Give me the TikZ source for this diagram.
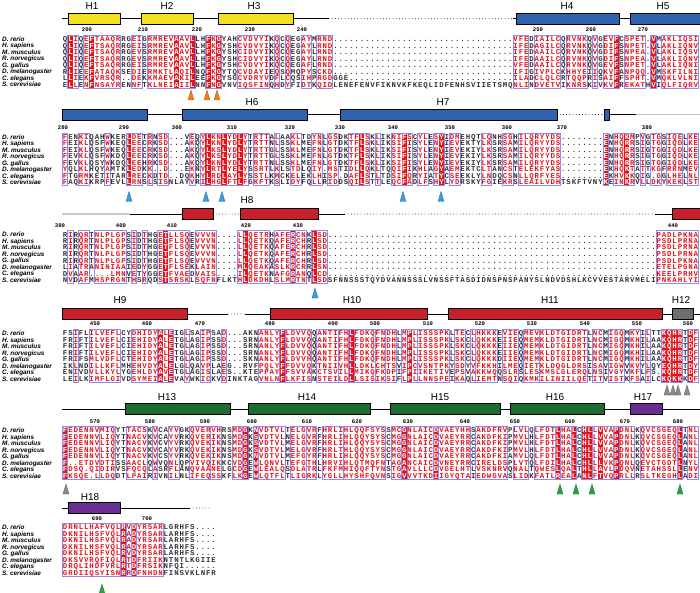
\documentclass[tikz,border=0pt]{standalone}
\usepackage{fontspec}
\setmainfont{Liberation Sans}
\newfontfamily\seqfont{Liberation Mono}
\definecolor{seqred}{HTML}{E2141E}
\definecolor{framecol}{HTML}{8C8CF2}
\definecolor{hxyellow}{HTML}{F2E11C}
\definecolor{hxblue}{HTML}{2F63B0}
\definecolor{hxred}{HTML}{C8202B}
\definecolor{hxgrey}{HTML}{6E6E6E}
\definecolor{hxgreen}{HTML}{1D6A34}
\definecolor{hxpurple}{HTML}{6A2D92}
\definecolor{triorange}{HTML}{F0801E}
\definecolor{triblue}{HTML}{3A9BE0}
\definecolor{trigrey}{HTML}{8A8A8A}
\definecolor{trigreen}{HTML}{2EA043}

% residue loop: one box per column, colour from the column marks
\newcount\seqcol
\def\seqchars#1{\ifx#1\relax\else\seqbox{#1}\expandafter\seqchars\fi}
\def\seqbox#1{\global\advance\seqcol by 1
  \makebox[5.3pt]{\ifcsname rd\curblk-\the\seqcol\endcsname\color{white}\else
    \ifcsname fr\curblk-\the\seqcol\endcsname\color{seqred}\else\color{black!80}\fi\fi#1}}

\expandafter\def\csname yblk1\endcsname{39.3}
\expandafter\def\csname yblk2\endcsname{137}
\expandafter\def\csname yblk3\endcsname{234.7}
\expandafter\def\csname yblk4\endcsname{333.3}
\expandafter\def\csname yblk5\endcsname{430.5}
\expandafter\def\csname yblk6\endcsname{527.3}
\def\specieslist{D. rerio,H. sapiens,M. musculus,R. norvegicus,G. gallus,D. melanogaster,C. elegans,S. cerevisiae}

\newcommand\drawblock[4]{%
  \foreach \c in {#3}{\expandafter\gdef\csname rd#1-\c\endcsname{}}
  \foreach \a/\b in {#4}{\foreach \c in {\a,...,\b}{\expandafter\gdef\csname fr#1-\c\endcsname{}}}
  \foreach \c in {#3} \fill[seqred] ({62.35+(\c-1)*5.3},{#2-3.8}) rectangle ++(5.3,52.3);
  \foreach \a/\b in {#4} \draw[simframe] ({62.35+(\a-1)*5.3},{#2-4.1}) rectangle ({67.65+(\b-1)*5.3},{#2+48.8});
  \foreach \sp [count=\i] in \specieslist \node[spname] (sp#1-\i) at (2,{#2+(\i-1)*6.5+2.2}) {\sp};
}
\newcommand\seqrow[3]{%
  \pgfmathsetmacro\rowy{\csname yblk#1\endcsname+(#2-1)*6.5+2.3}
  \def\curblk{#1}
  \node[seqline] (seq#1-#2) at (62.35,\rowy) {\global\seqcol=0\relax\seqchars#3\relax};}
\newcommand\helixbar[4]{\draw[helixbox, fill=#4] (#1,{#3-5.5}) rectangle (#2,{#3+5.5});}
\newcommand\sitetri[3]{\fill[#3, draw=#3!70!black, line width=0.3pt] ({#1-3},{#2+10}) -- (#1,#2) -- ({#1+3},{#2+10}) -- cycle;}

\begin{document}
\begin{tikzpicture}[x=1pt,y=-1pt,
  seqline/.style={anchor=base west, inner sep=0pt, font=\seqfont\bfseries\fontsize{7.4}{8}\selectfont},
  spname/.style={anchor=base west, inner sep=0pt, font=\bfseries\itshape\fontsize{6.4}{7}\selectfont},
  numlbl/.style={anchor=base, inner sep=0pt, font=\seqfont\bfseries\fontsize{5.6}{6}\selectfont},
  hlabel/.style={anchor=base, inner sep=0pt, font=\fontsize{10}{12}\selectfont},
  simframe/.style={draw=framecol, line width=0.7pt},
  helixbox/.style={draw=black, line width=0.6pt},
  loopline/.style={line width=0.6pt},
  gapline/.style={line width=0.9pt, line cap=round, dash pattern=on 0pt off 3.2pt}]
\useasboundingbox (0,0) rectangle (700,593);
\fill[white] (0,0) rectangle (700,593);

% block 1
\draw[loopline] (62,18.7) -- (329,18.7);
\draw[gapline] (329,18.7) -- (513,18.7);
\draw[loopline] (513,18.7) -- (700,18.7);
\helixbar{68}{120}{18.7}{hxyellow}
\helixbar{141}{193}{18.7}{hxyellow}
\helixbar{218}{293}{18.7}{hxyellow}
\helixbar{516}{619}{18.7}{hxblue}
\helixbar{630}{703}{18.7}{hxblue}
\foreach \h/\x in {H1/92,H2/167,H3/254,H4/567,H5/663} \node[hlabel] (lbl\h) at (\x,9.3) {\h};
\foreach \n/\x in {200/87,210/143,220/197,230/250,240/302,250/538,260/591,270/643} \node[numlbl] (num\n) at (\x,31.8) {\n};
\drawblock{1}{39.3}{2,6,22,25,28,30,105,112}{2/3,5/11,14/15,17/25,28/30,34/39,41/41,43/43,46/47,49/51,86/88,90/94,96/99,101/101,103/105,107/110,112/112,114/120}
\seqrow{1}{1}{QLIQEFTAAQ RRGEIGRMRE VAAVLLHFKG YAHCVDVYIK QCQEGAYMRN D......... .......... .......... .....VFEDI AILCQRVNKQ VGEVFCSPET .VMAKLIQSI}
\seqrow{1}{2}{QLIQEFTSAQ RRGEISRMRE VAAVLLHFKG YSHCVDVYIK QCQEGAYLRN D......... .......... .......... .....IFEDA GILCQRVNKQ VGDIFSNPET .VLAKLIQNV}
\seqrow{1}{3}{QLIQEFTSAQ RRGEVSRMRE VAAVLLHFKG YSHCIDVYIK QCQEGAYLRN D......... .......... .......... .....IFEDA AILCQRVNKQ VGDIFSNPEA .VLAKLIQSV}
\seqrow{1}{4}{QLIQEFTSAQ RRGEVSRMRE VAAVLLHFKG YSHCIDVYIK QCQEGAYLRN D......... .......... .......... .....IFEDA AILCQRVNKQ VGDIFSNPEA .VLAKLIQNV}
\seqrow{1}{5}{QLIQEFTSAQ RRGEISRMRE VAAVLLHFKG YSHCVDVYIK QCQEGAFLRN D......... .......... .......... .....VFEDA AILCQRVNKQ VGEVFSNPET .VLAKLIQNI}
\seqrow{1}{6}{RLIEEFATAQ KSEDIERMKT LAQILNQFKG YTQCVDAYIE QSQMQPYSCK D......... .......... .......... .....IFIGI VPLCKHHYEI IQKVFANPQQ .VMSKFILNI}
\seqrow{1}{7}{LLIEKFVRSQ R..DEKKMAE VAKILEEFKG YSGCVDRYVD FLCQSIHPRG DGGE...... .......... .......... .....ILADC LQLCRTQQPR ISAIFFSPHT .VMQKLVLNI}
\seqrow{1}{8}{ELLENFNSAY RENNFTKLNE IAIILNNFNG VNVIQSFINQ HDYFIDTKQI DLENEFENVF IKNVKFKEQL IDFENHSVII ETSMQNLIND VETVIKNRSK IVKVFREKAT HVIQLFIQRV}
\foreach \x in {191,207,217} {\sitetri{\x}{90}{triorange}}

% block 2
\helixbar{62}{147}{114.5}{hxblue}
\draw[loopline] (147,114.5) -- (182,114.5);
\draw[loopline] (307,114.5) -- (340,114.5);
\draw[gapline] (557,114.5) -- (604,114.5);
\draw[loopline] (609,114.5) -- (636,114.5);
\draw[line width=1.2pt, black!22] (636,114.5) -- (700,114.5);
\helixbar{182}{307}{114.5}{hxblue}
\helixbar{340}{557}{114.5}{hxblue}
\helixbar{604}{609}{114.5}{hxblue}
\foreach \h/\x in {H6/252,H7/443} \node[hlabel] (lbl\h) at (\x,106) {\h};
\foreach \n/\x in {280/63,290/124,300/177,310/232,320/290,330/340,340/393,350/450,360/507,370/562,380/647} \node[numlbl] (num\n) at (\x,129.5) {\n};
\drawblock{2}{137}{13,28,31,34,57,65,72,103,107}{1/1,4/5,9/9,13/15,17/17,19/20,25/25,27/35,37/39,41/41,44/45,48/49,51/52,55/58,60/60,63/66,68/69,71/72,74/75,80/81,84/85,87/94,103/103,105/108,110/110,112/113,115/117,119/120}
\seqrow{2}{1}{FENKIQAHWK ERLDETRNSD ...VEQYLKN LYDLYTRTTA LAAKLTDYNL GSDKTFLSKL IKNIFSCYLE SYIDMEHQTL QNHSGHILQR YYDS...... ..ENHQKMPV GTGSIQELKE}
\seqrow{2}{2}{FEIKLQSFWK EQLEECRKSD ...AKQYLKN LYDLYTRTTN LSSKLMEFNL GTDKTFLSKL IKSIFISYLE NYIEVEKTYL KSRSAMILQR YYDS...... ..ENHQRRSI GTGGIQDLKE}
\seqrow{2}{3}{FEIKLQSFWK EQLEECRKSD ...AKQYLKS LYDLYTRTTG LSSKLMEFNL GTDKTFLSKL IKSIFISYLE NYIEVEKIYL KSRSAMILQR YYDS...... ..ENHQRRSI GTGGIQDLKE}
\seqrow{2}{4}{FEVKLQSFWK DQLEECRKSD ...AKQYLKS LYDLYTRTTG LSSKLMEFNL GTDKTFLSKL IKSIFISYLE NYIEVEKIYL KSRSAMILQR YYDS...... ..ENHQRRSI GTGGIQDLKE}
\seqrow{2}{5}{FEVKLQSYWK DQLEEHRKSD ...AKQYLKN LYDLYTRTTN LSSKLMEFNL GTDKTFLSKL IKSIFISYLE NYIEVEKIYL KSRSAMILQR YYDS...... ..ENHQRRSI GTGGIQDLKE}
\seqrow{2}{6}{YQLKLHQYAM TKLEDKK..D ...EKNYLRT LYELYSSRTL KLSTDLQIY. MSTIDLLQKL TQQIFIKHLA GYAEMEKTCL TANCSTELEK FYAS...... ..EKHQKTAT TKGFRRNMEV}
\seqrow{2}{7}{FTGRMKETIT ARLRECKDTD ..DQKHYLRD LAYLYSSTLK MCKELEKLHI SP.DAFLSTL TDSIFQRYIA TYCSEEKLYL NDQCSNLLQR FYES...... ..EKHVKKQI G.GGLHELNL}
\seqrow{2}{8}{FAQKIKRPFE VLLRNSLSIS NLAYVRILHG LFTLFGKFTK SLIDYFQLLR IDDSQILSTT LEQCFADLFS HYLYDRSKYF GIEKRSLEAI LVDHTSKFTV NYKEINKRVL LDKYKEKLST}
\foreach \x in {129,206,222,403,441} {\sitetri{\x}{191.5}{triblue}}

% block 3
\draw[line width=1.2pt, black!22] (62,214) -- (130,214);
\draw[loopline] (130,214) -- (182,214);
\draw[gapline] (213,214) -- (240,214);
\draw[loopline] (318,214) -- (345,214);
\draw[gapline] (345,214) -- (655,214);
\draw[loopline] (655,214) -- (672,214);
\helixbar{182}{213}{214}{hxred}
\helixbar{240}{318}{214}{hxred}
\helixbar{672}{703}{214}{hxred}
\node[hlabel] (lblH8) at (247,204) {H8};
\foreach \n/\x in {390/60,400/121,410/172,420/246,430/298,440/673} \node[numlbl] (num\n) at (\x,227.2) {\n};
\drawblock{3}{234.7}{20,35,44,48}{2/2,4/5,7/12,14/14,16/16,19/24,26/29,34/39,41/43,44/44,45/46,48/50,113/120}
\seqrow{3}{1}{RIRQRTNLPL GPSIDTHGET LLSQEVVVN. ...LLQETRH AFERCNKLSD .......... .......... .......... .......... .......... .......... ..PADLPKNA}
\seqrow{3}{2}{RIRQRTNLPL GPSIDTHGET FLSQEVVVN. ...LLQETKQ AFERCHRLSD .......... .......... .......... .......... .......... .......... ..PSDLPRNA}
\seqrow{3}{3}{RIRQRTNLPL GPSIDTHGET FLSQEVVVN. ...LLQETKQ AFERCHRLSD .......... .......... .......... .......... .......... .......... ..PSDLPRNA}
\seqrow{3}{4}{RIRQRTNLPL GPSIDTHGET FLSQEVVVN. ...LLQETKQ AFERCHRLSD .......... .......... .......... .......... .......... .......... ..PSDLPRNA}
\seqrow{3}{5}{RIRQRTNLPL GPSIDTHGET FLSQEVVVN. ...LLQETKQ AFERCHRLSD .......... .......... .......... .......... .......... .......... ..PSDLPKNA}
\seqrow{3}{6}{LIATRANINI AAIEDYGGET FLSEKLAIN. ...MLQEAKA SLKRCRRLSN .......... .......... .......... .......... .......... .......... ..ETELPGNA}
\seqrow{3}{7}{DVAAR....L MNVETYGGET FVAEDVAIS. ...ILQETKN AFGRANQLCD .......... .......... .......... .......... .......... .......... ..KEELPRHV}
\seqrow{3}{8}{NVDAFMHSPR GNTHSRQDST SRSKLSQFNF LKTHLDKDHL SLMRTNTLSD SFNNSSSTQY DVANNSSSLV NSSFTASDID NSPNSPANYS LNDVDSHLKC VVESTARVME LIPNKAHLYI}
\sitetri{315}{288}{triblue}

% block 4
\draw[loopline] (187,314) -- (228,314);
\draw[gapline] (228,314) -- (245,314);
\draw[loopline] (245,314) -- (270,314);
\draw[loopline] (427,314) -- (448,314);
\draw[loopline] (662,314) -- (672,314);
\draw[loopline] (693,314) -- (700,314);
\helixbar{62}{187}{314}{hxred}
\helixbar{270}{427}{314}{hxred}
\helixbar{448}{662}{314}{hxred}
\helixbar{672}{693}{314}{hxgrey}
\foreach \h/\x in {H9/120,H10/352,H11/550,H12/681} \node[hlabel] (lbl\h) at (\x,303) {\h};
\foreach \n/\x in {450/95,460/147,470/200,480/270,490/333,500/375,510/428,520/480,530/532,540/585,550/637,560/688} \node[numlbl] (num\n) at (\x,325.8) {\n};
\drawblock{4}{333.3}{19,21,42,55,66,114,115,116,117,119}{3/3,6/11,14/18,19/21,24/24,27/28,31/31,38/41,42/42,43/47,49/52,53/54,55/55,56/59,60/61,62/63,65/67,68/73,75/76,78/78,79/82,84/86,88/90,91/99,101/102,104/106,108/109,111/111,114/117,119/120}
\seqrow{4}{1}{FSIFLILVEF LCYDHIDYAL EIGLSAIPSA D...AKNANL YFLDVVQQAN TIFHLFDKQF NDHLMPLISS SPKLTECLHK KKEVIEQMEV KLDTGIDRTL NCMIGQMKYI LTTKQHRTDF}
\seqrow{4}{2}{FRIFTILVEF LCIEHIDYAL ETGLAGIPSS D...SRNANL YFLDVVQQAN TIFHLFDKQF NDHLMPLISS SPKLSKCLQK KKEIIEQMEM KLDTGIDRTL NCMIGQMKHI LAAKQHRTDF}
\seqrow{4}{3}{FRIFTILVEF LCIEHIDYAL ETGLAGIPSS D...SRNANL YFLDVVQQAN TIFHLFDKQF NDHLMPLISS SPKLSKCLQK KKEIIEQMEM KLDTGIDRTL NCMIGQMKHI LAAKQHRTDF}
\seqrow{4}{4}{FRIFTILVEF LCIEHIDYAL ETGLAGIPSS D...SRNANL YFLDVVQQAN TIFHLFDKQF NDHLMPLISS SPKLSKCLQK KKEIIEQMEM KLDTGIDRTL NCMIGQMKHI LAAKQHRTDF}
\seqrow{4}{5}{FRIFSMLVDF LCTEHIDYAL ETGLAGIPSS D...SKNANL YFLDVVHQAN TIFHLFDKQF NDHLMPLISS SPKLSKCLQK KKDIIEQMEM KLDTGIDRTL NCMIGQMKHI LAAKQHRTDF}
\seqrow{4}{6}{IKLNDILLKF LMHEHVDYAL ELGLQAVPLA EG..RVFPQL YFFDVVQKTN IIVHLLDKLC HTSVIPCVSN TPKYSDYVFK KHILMEQIET KLDQGLDRSI SAVIGWVKVY LQYEQHRTDY}
\seqrow{4}{7}{ENIVDVLLKY LYGEHLDYAV ETGLAGISLA ES..KTEPPA YFFSVVAKCT SVILLMIKQF KDPIFPIIKE TIVEPSVAKK WQQSLRSLES KMSLGLERQL NSIVGYVKFL FS.KQHRTDF}
\seqrow{4}{8}{LEILKIMFLG IVDSYMEIAL EVAYWKICKV DINKTAGVNL NFLKFISNST EILDLLSISI KSIFLPLLNN SPEIKAQLIE MTNSQIQKMK ILINIILQET ITVISTKFSA ILCKQKKKDF}
\foreach \x in {667,673,678,687} {\sitetri{\x}{385}{trigrey}}

% block 5
\draw[loopline] (62,409) -- (125,409);
\draw[loopline] (230,409) -- (248,409);
\draw[loopline] (370,409) -- (390,409);
\draw[loopline] (500,409) -- (510,409);
\draw[loopline] (604,409) -- (630,409);
\draw[loopline] (662,409) -- (700,409);
\helixbar{125}{230}{409}{hxgreen}
\helixbar{248}{370}{409}{hxgreen}
\helixbar{390}{500}{409}{hxgreen}
\helixbar{510}{604}{409}{hxgreen}
\helixbar{630}{662}{409}{hxpurple}
\foreach \h/\x in {H13/167,H14/307,H15/440,H16/555,H17/643} \node[hlabel] (lbl\h) at (\x,400) {\h};
\foreach \n/\x in {570/95,580/150,590/205,600/252,610/307,620/357,630/408,640/465,650/515,660/570,670/625,680/678} \node[numlbl] (num\n) at (\x,423) {\n};
\drawblock{5}{430.5}{1,35,37,65,71,94,97,99,100,102,105,117}{1/1,2/7,8/10,13/16,18/18,21/22,25/28,29/30,33/34,35/35,37/37,38/42,44/46,47/48,50/53,54/61,63/64,65/65,66/70,71/71,72/77,79/84,86/88,90/93,94/94,95/96,97/97,99/100,101/104,105/105,106/108,110/116,117/117,119/120}
\seqrow{5}{1}{FEDENNVMIQ YTTACSKVCA YVGKQVERVH RSMDGKNVDT VLTELGVRFH RLIHLQQFSY SSMCGNLAIC DVAEYHHSAK DFRVPLVLQL FDTLHALCHL LVVAPDNLKQ VCSGEQLTNL}
\seqrow{5}{2}{FEDENNVLIQ YTNACVKVCA YVRKQVERIK NSMDGKSVDT VLNELGVRFH RLIHLQQYSY SCMGGNLAIC DVAEYRRCAK DFKIPMVLHL FDTLHALCHL LVVAPDNLKQ VCSGEQLANL}
\seqrow{5}{3}{FEDENNVLIQ YTNACVKVCV YVRKQVEKIK NSMDGKSVDT VLMELGVRFH RLIHLQQYSY SCMGGNLAIC DVAEYRRCAK DFKIPMVLHL FDTLHALCHL LVVAPDNLKQ VCSGEQLANL}
\seqrow{5}{4}{FEDENNVLIQ YTNACVKVCA YVRKQVEKIK NSMDGKSVDT VLMELGVRFH RLTHLQQYSY SCMGGNLAIC DVAEYRRCAK DFKIPMVLHL FDTLHALCHL LVVAPDNLKQ VCSGEQLANL}
\seqrow{5}{5}{FEDENNVLIQ YTNACVKVCS YVRKQVEKIK NSMDGKNVDT VLMEFGYRFH RLIHLQQYSY SCMGGNLAIC DVAEYRRCAK DFKIAMVLQL FDTLHALCHL LVVAPDNLKQ VCSGEQLANL}
\seqrow{5}{6}{F..ETDVDTI SSAACLQWVQ NLQPVIVQIK KCVDGEWLQN VLTEFGTHLH RVIHLQTMQF NTAGANCAIC DVNEYRRCIR ELDSPLVTQL FDILHALCHL LLVKPQNLQE VCTGDTLNYL}
\seqrow{5}{7}{FDSQ.QIDIR VSFQCQLASR FLANQVAANE LGCDGEWLEA LQSDLATRLF KFMHIQQFTY NSTGAVLLLC DVGELHTLVS KNRVQNALTQ WESLQALTHL LAVLPDQVNE TAHSSLLENV}
\seqrow{5}{8}{FKSQE.LLDQ DTLPAIRIVN ILNLIFEQSS KFLKGEWLQT FLTLIGRKLY GLLHYSHFQV NSIGVVVTKD IIGYQTAIED WGVASLIDKF ATLREALANL FTVQPRLLRS LTKEGHLADI}
\sitetri{66}{484}{trigrey}
\foreach \x in {560,576,592,680} {\sitetri{\x}{484}{trigreen}}

% block 6
\draw[loopline] (62,508) -- (190,508);
\draw[gapline] (190,508) -- (210,508);
\helixbar{68}{120}{508}{hxpurple}
\node[hlabel] (lblH18) at (90,500) {H18};
\foreach \n/\x in {690/97,700/147} \node[numlbl] (num\n) at (\x,520.5) {\n};
\drawblock{6}{527.3}{12,14}{1/11,12/12,13/13,14/14,15/19}
\seqrow{6}{1}{DRNLLHAFVQ LRVDYRSARL GRHFS....}
\seqrow{6}{2}{DKNILHSFVQ LRADYRSARL ARHFS....}
\seqrow{6}{3}{DKNILHSFVQ LRADYRSARL ARHFS....}
\seqrow{6}{4}{DKNILHSFVQ LRADYRSARL ARHFS....}
\seqrow{6}{5}{DKNILHSFVQ LRVDYRSARL ARHFS....}
\seqrow{6}{6}{DKSVVRQFIQ LRTDFRIIKN TNTLKGIIE}
\seqrow{6}{7}{DRQLIHDFVR LRTDFRSIKN FQI......}
\seqrow{6}{8}{GRDIIQSYIS NRRDFNHDNF INSVKLNFR}
\sitetri{102}{584}{trigreen}
\end{tikzpicture}
\end{document}
